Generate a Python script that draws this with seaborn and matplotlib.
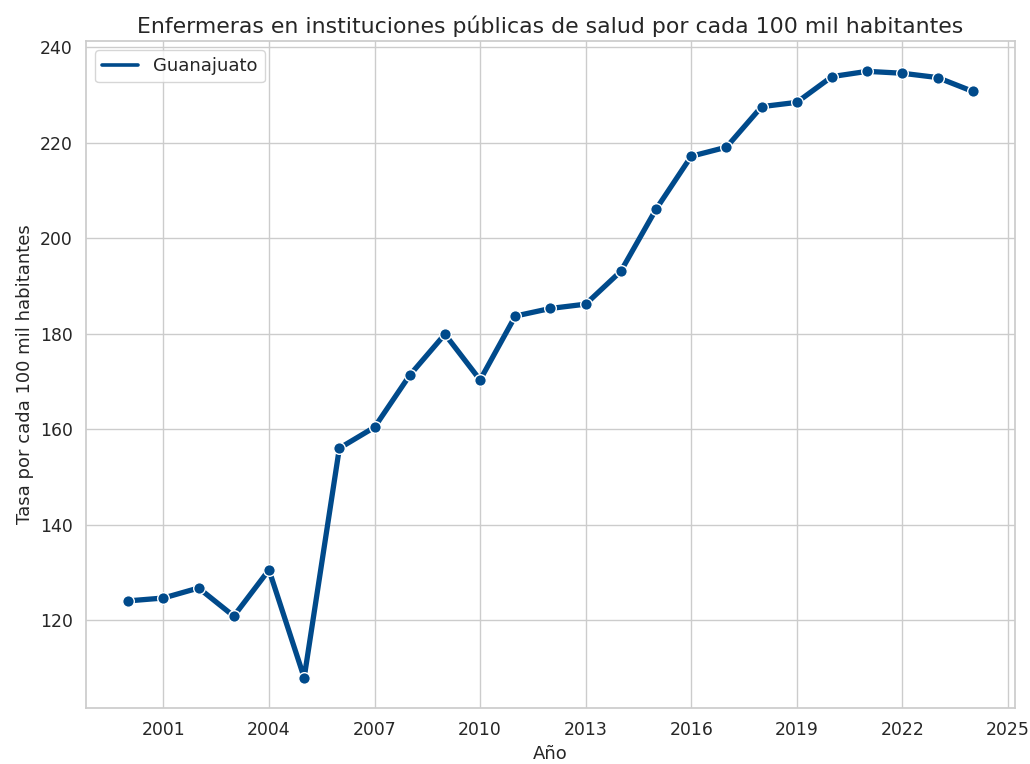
import matplotlib
matplotlib.use("Agg")
import matplotlib.pyplot as plt
from matplotlib.ticker import MultipleLocator
import seaborn as sns
import pandas as pd

sns.set_theme(style="whitegrid")

years = list(range(2000, 2025))
tasa = [124.0, 124.6, 126.7, 120.8, 130.5, 107.9, 156.0, 160.4, 171.3, 179.9,
        170.3, 183.7, 185.3, 186.2, 193.1, 206.1, 217.2, 219.1, 227.6, 228.5,
        233.9, 235.0, 234.6, 233.7, 230.8]
estado = "Guanajuato"

df = pd.DataFrame({"Año": years, "Tasa": tasa})
color = "#004a8b"

fig, ax = plt.subplots(figsize=(10.3, 7.64), dpi=100)
sns.lineplot(data=df, x="Año", y="Tasa", color=color, linewidth=3.8,
             label=estado, ax=ax)
sns.scatterplot(data=df, x="Año", y="Tasa", color=color, s=70,
                edgecolor="white", linewidth=1, legend=False, zorder=3, ax=ax)
ax.xaxis.set_major_locator(MultipleLocator(3))
ax.set_title("Enfermeras en instituciones públicas de salud por cada 100 mil habitantes",
             fontsize=15.8)
ax.set_xlabel("Año", fontsize=13)
ax.set_ylabel("Tasa por cada 100 mil habitantes", fontsize=13)
ax.tick_params(labelsize=12.4)
leg = ax.legend(loc="upper left", fontsize=13)
for h in leg.get_lines():
    h.set_linewidth(2.6)
fig.subplots_adjust(left=0.0835, right=0.9854, top=0.9463, bottom=0.0733)
fig.savefig("out.png", dpi=100)
